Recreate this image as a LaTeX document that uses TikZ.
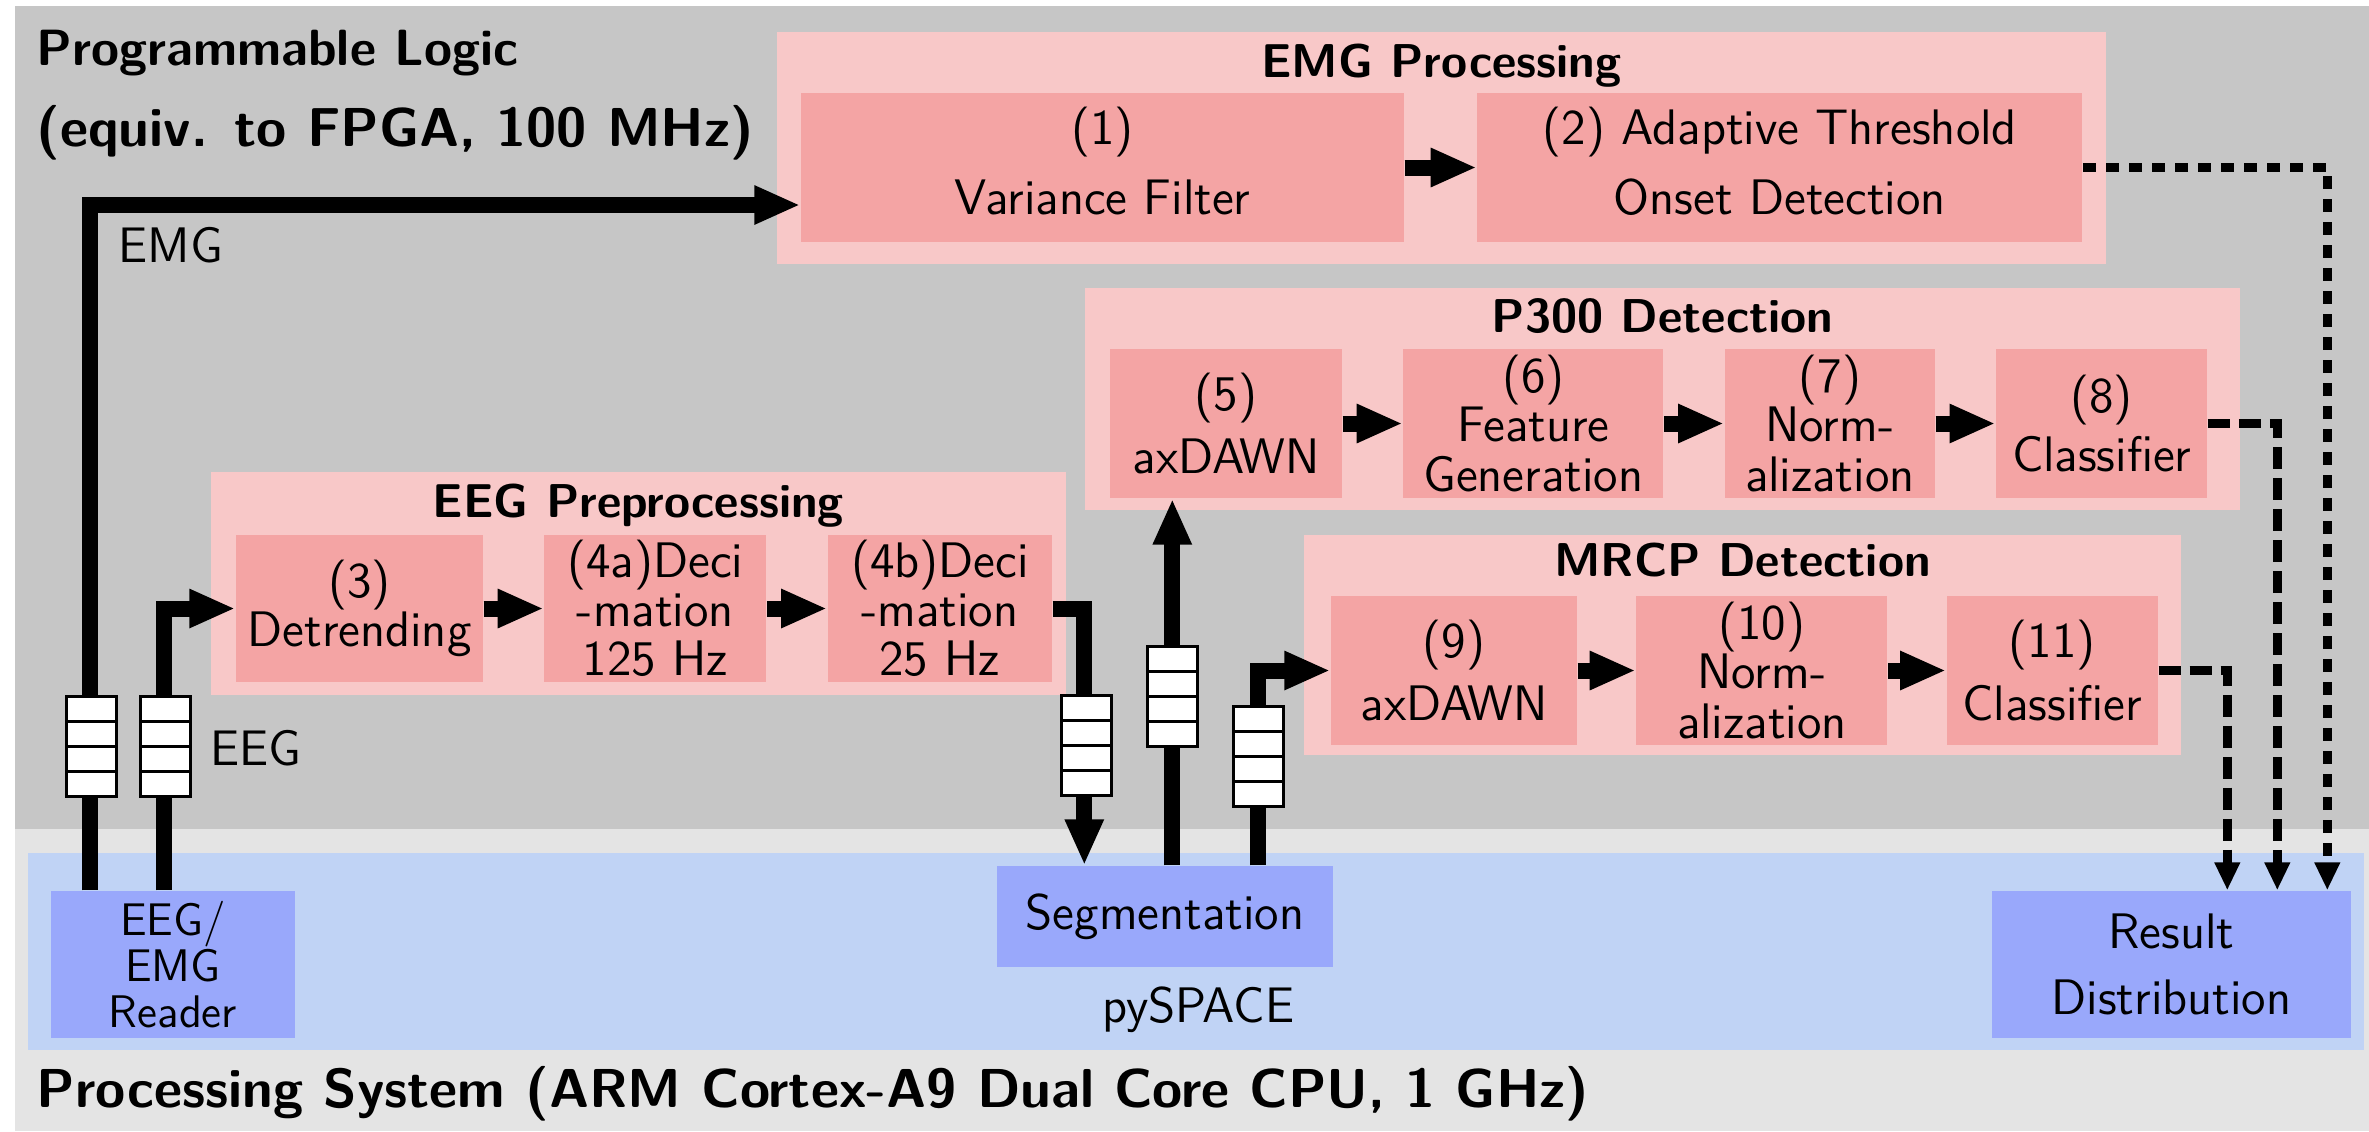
\documentclass[tikz,border=0pt]{standalone}
\usepackage{tikz}
\usetikzlibrary{arrows.meta,positioning}

\definecolor{plgray}{RGB}{198,198,198}
\definecolor{psgray}{RGB}{228,228,228}
\definecolor{bandblue}{RGB}{192,211,245}
\definecolor{hostblue}{RGB}{153,168,251}
\definecolor{grouppink}{RGB}{248,200,200}
\definecolor{stagepink}{RGB}{244,164,164}

\begin{document}
\begin{tikzpicture}[node distance=0.6cm, font=\sffamily,
    stage/.style={fill=stagepink, inner sep=0pt, minimum height=1.49cm, align=center,
                  font=\sffamily\fontsize{14.2}{14}\selectfont},
    group/.style={fill=grouppink, inner sep=0pt},
    grouptitle/.style={anchor=base, font=\sffamily\bfseries\fontsize{13.5}{16}\selectfont},
    host/.style={fill=hostblue, inner sep=0pt, align=center, font=\sffamily\fontsize{14.2}{14}\selectfont},
    fifo/.style={draw, fill=white, line width=0.03cm, minimum width=0.5cm, minimum height=1cm, inner sep=0pt,
                 path picture={\foreach \k in {0.25,0.5,0.75}
                   \draw[line width=0.03cm] ([yshift=\k cm]path picture bounding box.south west)
                     -- ([yshift=\k cm]path picture bounding box.south east);}},
    flow/.style={line width=0.16cm, -{Triangle[length=0.46cm,width=0.36cm]}},
    result/.style={line width=0.09cm, dash pattern=on 0.22cm off 0.09cm,
                   -{Triangle[length=0.28cm,width=0.24cm]}},
    lbl/.style={anchor=base west, inner sep=0pt, font=\sffamily\fontsize{14.2}{14}\selectfont},
    region/.style={anchor=base west, inner sep=0pt, font=\sffamily\bfseries\fontsize{15.6}{17}\selectfont}]

  \useasboundingbox (0,0) rectangle (23.69,-11.31);
  \fill[plgray] (0.15,-0.06) rectangle (23.69,-8.29);
  \fill[psgray] (0.15,-8.29) rectangle (23.69,-11.31);
  \fill[bandblue] (0.28,-8.53) rectangle (23.64,-10.50);

  % groups
  \node[group, minimum width=13.29cm, minimum height=2.32cm] (emggrp) at (14.415,-1.48) {};
  \node[group, minimum width=8.55cm, minimum height=2.23cm] (eeggrp) at (6.385,-5.835) {};
  \node[group, minimum width=11.55cm, minimum height=2.22cm] (p3grp) at (16.625,-3.99) {};
  \node[group, minimum width=8.77cm, minimum height=2.20cm] (mrgrp) at (17.425,-6.45) {};

  \node[grouptitle] (emgtitle) at ([yshift=-0.46cm]emggrp.north) {EMG Processing};
  \node[grouptitle] (eegtitle) at ([yshift=-0.46cm]eeggrp.north) {EEG Preprocessing};
  \node[grouptitle] (p3title) at ([yshift=-0.45cm]p3grp.north) {P300 Detection};
  \node[grouptitle] (mrtitle) at ([yshift=-0.42cm]mrgrp.north) {MRCP Detection};

  % stages
  \node[stage, minimum width=6.03cm] (var) at (11.025,-1.675) {(1)\\[6pt]Variance Filter\\[-10pt]\mbox{}};
  \node[stage, minimum width=6.05cm, right=0.72cm of var] (ath) {(2) Adaptive Threshold\\[6pt]Onset Detection\\[-10pt]\mbox{}};

  \node[stage, minimum width=2.47cm, minimum height=1.47cm] (detr) at (3.595,-6.085) {(3)\\Detrending};
  \node[stage, minimum width=2.22cm, minimum height=1.47cm, right=of detr] (deca) {(4a)Deci\\-mation\\125 Hz};
  \node[stage, minimum width=2.24cm, minimum height=1.47cm, right=of deca] (decb) {(4b)Deci\\-mation\\25 Hz};

  \node[stage, minimum width=2.32cm] (axp) at (12.26,-4.235) {(5)\\[4pt]axDAWN};
  \node[stage, minimum width=2.60cm, right=of axp] (feat) {(6)\\Feature\\Generation};
  \node[stage, minimum width=2.10cm, right=of feat] (normp) {(7)\\Norm-\\alization};
  \node[stage, minimum width=2.11cm, right=of normp] (clsp) {(8)\\[3pt]Classifier};

  \node[stage, minimum width=2.46cm] (axm) at (14.54,-6.705) {(9)\\[4pt]axDAWN};
  \node[stage, minimum width=2.51cm, right=0.58cm of axm] (normm) {(10)\\Norm-\\alization};
  \node[stage, minimum width=2.11cm, right=0.58cm of normm] (clsm) {(11)\\[4pt]Classifier};

  % processing system
  \node[host, minimum width=2.44cm, minimum height=1.47cm, font=\sffamily\fontsize{13}{13}\selectfont] (reader)
    at (1.73,-9.645) {EEG/\\EMG\\Reader};
  \node[host, minimum width=3.36cm, minimum height=1.01cm] (seg) at (11.65,-9.165) {Segmentation};
  \node[host, minimum width=3.59cm, minimum height=1.47cm] (res) at (21.715,-9.645) {Result\\[5pt]Distribution};

  % connectors
  \draw[flow] ([xshift=0.40cm]reader.north west) |- ([yshift=-0.375cm]var.west);
  \draw[flow] ([xshift=1.14cm]reader.north west) |- (detr.west);
  \draw[flow] (decb.east) -| ([xshift=0.88cm]seg.north west);
  \coordinate (segup) at ([xshift=1.76cm]seg.north west);
  \draw[flow] (segup) -- (segup |- axp.south);
  \draw[flow] ([xshift=2.62cm]seg.north west) |- (axm.west);

  \foreach \a/\b in {var/ath, detr/deca, deca/decb, axp/feat, feat/normp, normp/clsp, axm/normm, normm/clsm}
    \draw[flow] (\a) -- (\b);

  \draw[result, dash pattern=on 0.13cm off 0.1cm] (ath.east) -| ([xshift=3.36cm]res.north west);
  \draw[result] (clsp.east) -| ([xshift=2.86cm]res.north west);
  \draw[result] (clsm.east) -| ([xshift=2.36cm]res.north west);

  % fifos
  \node[fifo] (fifoemg) at (0.91,-7.46) {};
  \node[fifo] (fifoeeg) at (1.65,-7.46) {};
  \node[fifo] (fifoseg) at (10.86,-7.455) {};
  \node[fifo] (fifop3) at (11.725,-6.96) {};
  \node[fifo] (fifomr) at (12.585,-7.565) {};

  % labels
  \node[lbl] (emglbl) at (1.18,-2.62) {EMG};
  \node[lbl] (eeglbl) at (2.10,-7.65) {EEG};
  \node[lbl] (pyspace) at (11.02,-10.22) {pySPACE};
  \node[region, font=\sffamily\bfseries\fontsize{14.5}{17}\selectfont] (pltitle) at (0.36,-0.65) {Programmable Logic};
  \node[region] (plsub) at (0.36,-1.46) {(equiv. to FPGA, 100 MHz)};
  \node[region] (pstitle) at (0.36,-11.07) {Processing System (ARM Cortex-A9 Dual Core CPU, 1 GHz)};
\end{tikzpicture}
\end{document}
